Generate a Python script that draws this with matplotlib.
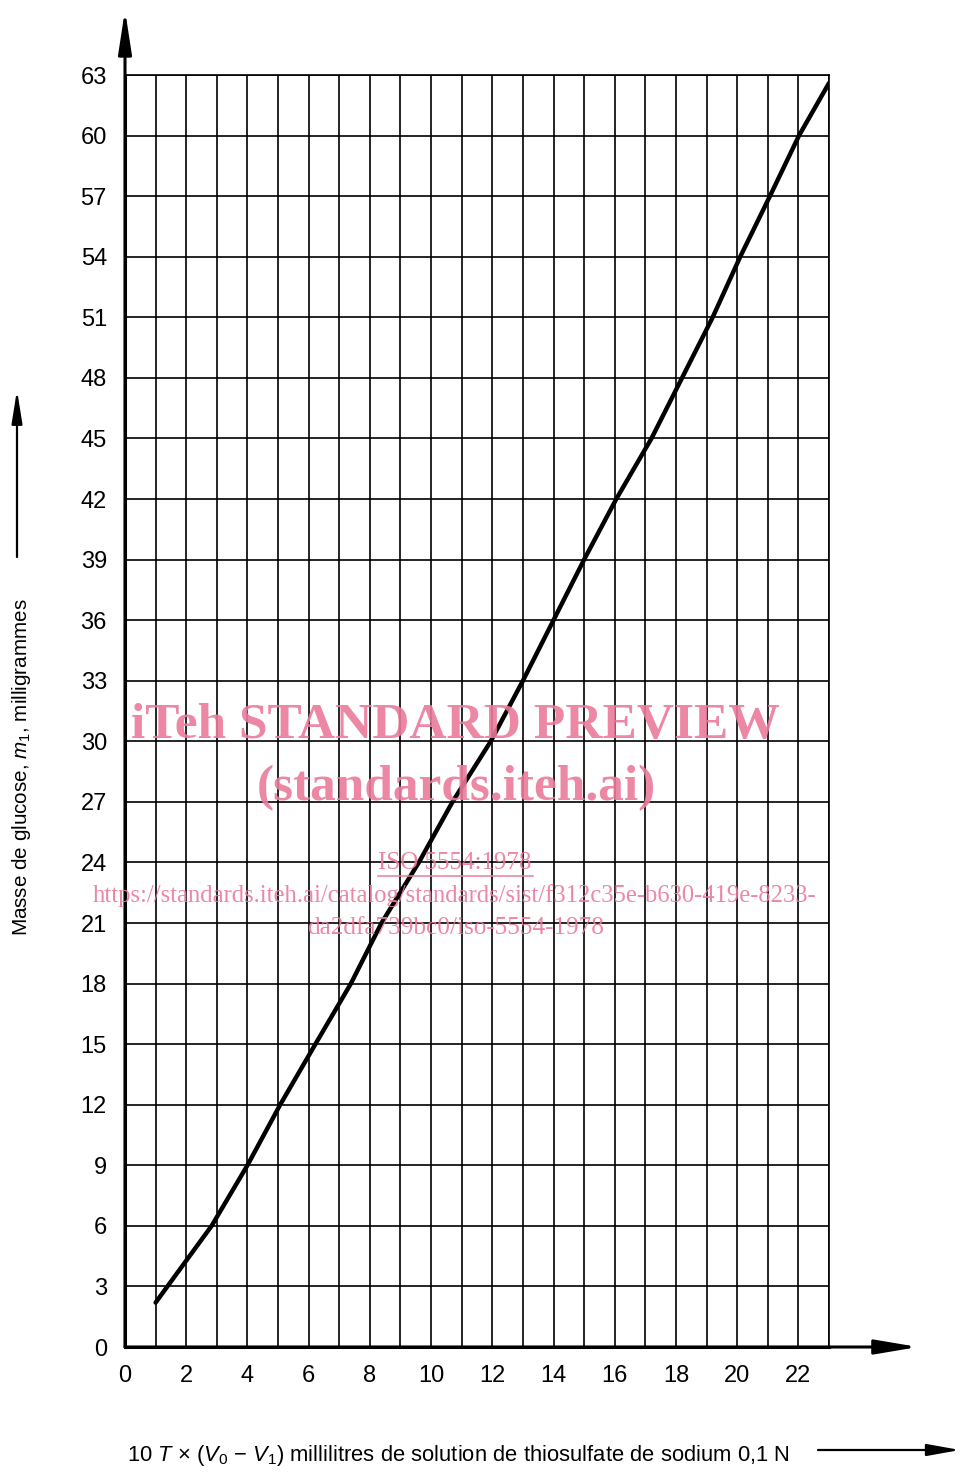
import matplotlib
matplotlib.use("Agg")
import matplotlib.pyplot as plt
from matplotlib.patches import FancyArrowPatch

plt.rcParams['font.family'] = ['Liberation Sans', 'DejaVu Sans']
plt.rcParams['mathtext.fontset'] = 'custom'
plt.rcParams['mathtext.rm'] = 'Liberation Sans'
plt.rcParams['mathtext.it'] = 'Liberation Sans:italic'

# ---- data ----
x_vals = [1.0, 2.83, 4.0, 5.07, 6.22, 7.38, 8.38, 9.6, 10.7, 11.95, 13.0,
          14.0, 15.0, 16.05, 17.2, 18.2, 19.2, 20.1, 21.07, 22.02, 23.0]
y_vals = [2.2, 6.0, 9.0, 12.0, 15.0, 18.0, 21.0, 24.0, 27.0, 30.0, 33.0,
          36.0, 39.0, 42.0, 45.0, 48.0, 51.0, 54.0, 57.0, 60.0, 62.6]
x_ticks = list(range(0, 24))
x_ticklabels = [str(v) if v % 2 == 0 and v <= 22 else '' for v in x_ticks]
y_ticks = list(range(0, 64, 3))
y_ticklabels = [str(v) for v in y_ticks]

W, H = 962, 1475
fig = plt.figure(figsize=(W / 100, H / 100), dpi=100)

def fx(px):
    return px / W

def fy(py):
    return 1 - py / H

left, right, top, bottom = 125, 829, 75, 1347
ax = fig.add_axes([fx(left), fy(bottom), fx(right) - fx(left), fy(top) - fy(bottom)])
ax.set_xlim(0, 23)
ax.set_ylim(0, 63)
ax.set_xticks(x_ticks)
ax.set_xticklabels(x_ticklabels)
ax.set_yticks(y_ticks)
ax.set_yticklabels(y_ticklabels)
ax.tick_params(length=0, labelsize=17, pad=13)
ax.grid(True, color='black', lw=1.2)
ax.set_axisbelow(True)
for s in ['top', 'right']:
    ax.spines[s].set_linewidth(1.2)
for s in ['left', 'bottom']:
    ax.spines[s].set_linewidth(2.2)

ax.plot(x_vals, y_vals, color='black', lw=3.2, solid_capstyle='round', zorder=3)

def arrow(x0, y0, x1, y1, lw, hl, hw):
    a = FancyArrowPatch((fx(x0), fy(y0)), (fx(x1), fy(y1)), transform=fig.transFigure,
                        arrowstyle=f'-|>,head_length={hl},head_width={hw}',
                        mutation_scale=20, lw=lw, color='black', shrinkA=0, shrinkB=0)
    fig.add_artist(a)

# axis arrows
arrow(left, bottom, left, 10, 2.2, 1.3, 0.2)
arrow(left, bottom, 918, bottom, 2.2, 1.3, 0.22)
# label arrows
arrow(17, 557, 17, 390, 1.6, 1.0, 0.16)
arrow(818, 1450, 960, 1450, 1.6, 1.0, 0.18)

fig.text(fx(22), fy(767), 'Masse de glucose, $m_1$, milligrammes', rotation=90,
         ha='center', va='center', fontsize=14.9)
fig.text(fx(127), fy(1456), '10 $T$ × ($V_0$ − $V_1$) millilitres de solution de thiosulfate de sodium 0,1 N',
         ha='left', va='center', fontsize=15.8)

# watermark
pink = '#EA7A9A'
serif = ['Liberation Serif', 'DejaVu Serif']
fig.text(fx(455), fy(726), 'iTeh STANDARD PREVIEW', ha='center', va='center',
         fontsize=37, fontweight='bold', family=serif, color=pink, alpha=0.9, zorder=10)
fig.text(fx(456), fy(788), '(standards.iteh.ai)', ha='center', va='center',
         fontsize=37, fontweight='bold', family=serif, color=pink, alpha=0.9, zorder=10)
fig.text(fx(455), fy(863), 'ISO 5554:1978', ha='center', va='center',
         fontsize=18, family=serif, color=pink, alpha=0.9, zorder=10)
fig.add_artist(plt.Line2D([fx(378), fx(533)], [fy(876), fy(876)], transform=fig.transFigure,
                          color=pink, lw=1.2, alpha=0.9, zorder=10))
fig.text(fx(455), fy(896), 'https://standards.iteh.ai/catalog/standards/sist/f312c35e-b630-419e-8233-',
         ha='center', va='center', fontsize=17.7, family=serif, color=pink, alpha=0.9, zorder=10)
fig.text(fx(456), fy(928), 'da2dfa739bc0/iso-5554-1978', ha='center', va='center',
         fontsize=18.2, family=serif, color=pink, alpha=0.9, zorder=10)

fig.savefig('out.png', dpi=100)
